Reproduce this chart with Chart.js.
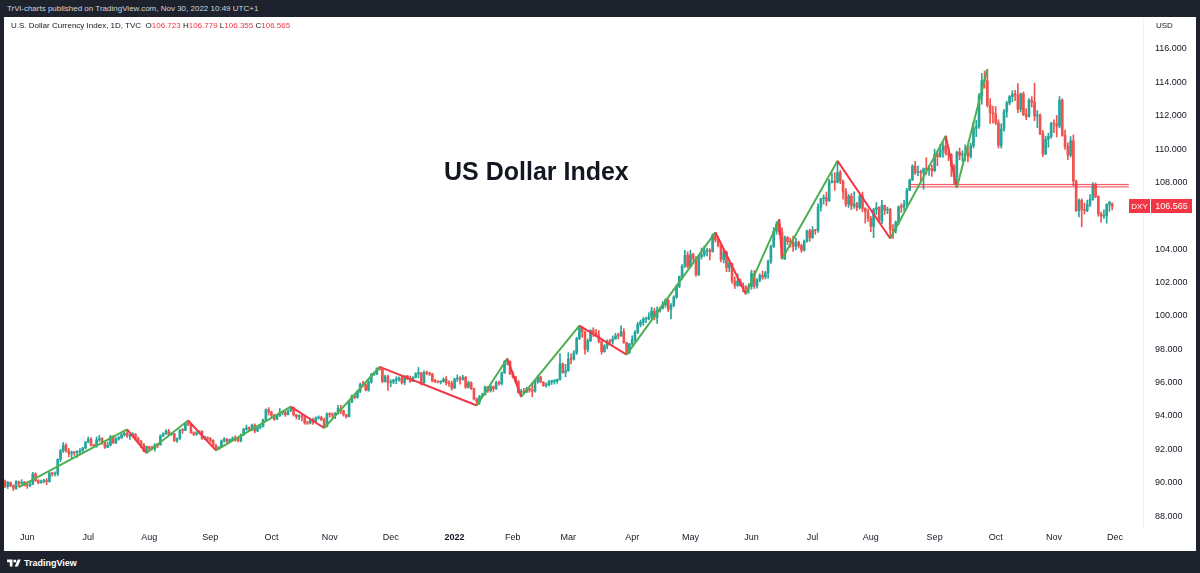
<!DOCTYPE html>
<html>
<head>
<meta charset="utf-8">
<script src="https://cdn.jsdelivr.net/npm/chart.js@4.4.1/dist/chart.umd.min.js"></script>
<style>
  html, body { margin: 0; padding: 0; }
  body {
    width: 1200px; height: 573px; position: relative; overflow: hidden;
    background: #1e222d; font-family: "Liberation Sans", Arial, sans-serif;
  }
  #top { position: absolute; left: 7px; top: 0; height: 17px; line-height: 17px; font-size: 8px; color: #d1d4dc; }
  #pane { position: absolute; left: 4px; top: 17px; width: 1192px; height: 534px; background: #fff; }
  #legend { position: absolute; left: 11px; top: 21px; line-height: 10px; font-size: 8px; color: #131722; white-space: pre; z-index: 2; }
  #legend .v { color: #f23645; }
  #usd { position: absolute; left: 1156px; top: 21px; line-height: 10px; font-size: 8px; color: #131722; z-index: 2; }
  #title { position: absolute; left: 444px; top: 159px; line-height: 25px; font-size: 25px; font-weight: bold; color: #131722; z-index: 2; }
  #foot { position: absolute; left: 7px; top: 556px; height: 14px; line-height: 14px; font-size: 9px; font-weight: bold; color: #fff; display: flex; align-items: center; gap: 3px; }
</style>
</head>
<body>
<div id="top">TrVi-charts published on TradingView.com, Nov 30, 2022 10:49 UTC+1</div>
<div id="pane"><canvas id="chart" width="1192" height="534"></canvas></div>
<div id="legend"></div>
<div id="usd">USD</div>
<div id="title">US Dollar Index</div>
<div id="foot">
  <svg width="14" height="10" viewBox="0 0 36 26"><path d="M14 22H7V11H0V4h14v18z" fill="#fff"/><circle cx="20" cy="8" r="4" fill="#fff"/><path d="M28 22h-8l7.5-18h8L28 22z" fill="#fff"/></svg>
  <span>TradingView</span>
</div>
<script>
// daily bars, 20 May 2021 .. 30 Nov 2022 (x = bar number)
const opens = [
  90.10,89.78,90.01,89.81,89.66,90.06,89.97,90.03,89.83,89.82,
  89.90,90.52,90.13,90.00,90.09,90.12,90.07,90.58,90.52,90.54,
  91.40,91.91,92.23,91.90,91.75,91.81,91.80,91.85,91.90,92.08,
  92.44,92.60,92.23,92.22,92.56,92.65,92.40,92.12,92.25,92.75,
  92.40,92.63,92.70,92.88,92.96,92.80,92.80,92.90,92.65,92.48,
  92.30,91.90,92.17,92.06,92.04,92.27,92.26,92.80,92.94,93.08,
  92.90,92.95,92.52,92.64,93.16,93.14,93.57,93.50,93.00,92.90,
  92.98,93.07,92.67,92.67,92.63,92.54,92.23,92.03,92.13,92.50,
  92.62,92.47,92.58,92.66,92.63,92.50,92.86,93.20,93.28,93.21,
  93.45,93.10,93.30,93.36,93.78,94.37,94.23,94.04,93.80,93.99,
  94.19,94.20,94.08,94.30,94.51,94.07,93.96,93.96,93.94,93.58,
  93.57,93.78,93.63,93.87,93.91,93.78,93.35,94.12,94.08,94.05,
  94.15,94.45,94.32,94.08,93.96,94.82,95.17,95.12,95.48,95.88,
  95.87,95.55,96.03,96.50,96.50,96.86,96.79,96.06,96.35,95.99,
  96.04,96.16,96.16,96.28,96.00,96.40,96.25,96.08,96.31,96.52,
  96.59,95.98,96.62,96.56,96.52,96.08,96.07,96.03,96.07,96.20,
  95.98,95.95,95.67,96.21,96.26,96.19,96.32,95.72,95.99,95.64,
  95.02,94.85,95.17,95.27,95.73,95.52,95.75,95.64,95.98,95.94,
  96.58,97.25,97.27,96.54,96.35,96.06,95.40,95.48,95.43,95.64,
  95.55,95.49,96.06,96.34,96.03,95.82,95.86,96.04,96.06,96.08,
  96.19,97.13,96.61,96.71,97.41,97.40,97.78,98.65,99.30,99.05,
  97.99,98.51,99.13,98.99,98.81,98.47,97.85,98.20,98.48,98.46,
  98.62,98.80,98.79,99.05,98.41,97.79,98.31,98.58,99.01,99.48,
  99.61,99.80,99.81,99.94,100.29,99.91,100.32,100.45,100.66,100.95,
  100.39,100.63,101.12,101.75,102.35,102.97,103.63,102.96,103.68,103.46,
  102.48,103.55,103.66,103.89,103.92,103.85,104.85,104.56,104.23,103.38,
  103.83,102.88,103.15,102.09,101.83,102.09,101.81,101.67,101.63,101.75,
  102.54,101.80,102.14,102.42,102.33,102.58,103.26,104.15,105.08,105.50,
  105.02,103.42,104.69,104.44,104.43,104.16,104.42,104.21,103.94,104.47,
  105.10,104.69,105.14,105.13,106.52,107.03,107.09,106.90,108.03,108.08,
  108.00,108.59,108.07,107.47,106.69,107.18,106.60,106.72,106.50,107.19,
  106.44,106.23,105.85,105.36,106.38,106.49,105.68,106.62,106.33,106.37,
  105.19,105.11,105.60,106.53,106.52,106.69,107.53,108.14,108.98,108.59,
  108.63,108.58,108.82,108.78,108.83,108.70,109.69,109.54,109.89,110.19,
  109.75,109.67,108.97,108.34,109.81,109.64,109.69,109.76,109.57,110.20,
  111.25,111.36,113.19,114.11,114.10,112.63,112.18,112.12,111.58,110.22,
  111.20,112.25,112.76,113.15,113.29,113.25,112.39,113.31,112.06,111.94,
  112.92,112.81,111.98,112.01,110.93,109.70,110.59,110.75,111.53,111.50,
  111.38,112.93,110.82,110.14,109.64,110.50,108.08,106.30,106.93,106.38,
  106.31,106.68,106.98,107.83,107.15,106.11,105.98,106.00,106.68,106.723
];
const highs = [
  90.15,90.08,90.05,89.88,90.13,90.10,90.18,90.08,90.03,90.06,
  90.62,90.60,90.18,90.16,90.20,90.25,90.62,90.63,90.65,91.42,
  92.00,92.41,92.35,92.05,91.90,91.88,91.92,92.04,92.12,92.45,
  92.74,92.71,92.30,92.74,92.84,92.70,92.48,92.44,92.84,92.83,
  92.70,92.78,92.94,93.05,93.19,92.90,93.00,92.95,92.73,92.54,
  92.35,92.20,92.17,92.20,92.34,92.32,92.87,92.99,93.19,93.20,
  93.00,92.95,92.69,93.17,93.24,93.61,93.73,93.55,93.05,93.06,
  93.12,93.13,92.79,92.76,92.72,92.59,92.32,92.17,92.57,92.70,
  92.65,92.62,92.75,92.81,92.70,92.92,93.26,93.45,93.35,93.52,
  93.53,93.41,93.48,93.81,94.43,94.50,94.29,94.10,94.06,94.45,
  94.29,94.28,94.36,94.56,94.53,94.10,94.07,94.11,93.96,93.69,
  93.87,93.87,93.95,94.01,93.99,93.88,94.19,94.20,94.18,94.21,
  94.63,94.64,94.35,94.10,94.88,95.26,95.27,95.53,95.97,96.07,
  95.93,96.25,96.55,96.63,96.89,96.94,96.86,96.44,96.45,96.17,
  96.20,96.35,96.34,96.40,96.41,96.43,96.39,96.36,96.60,96.91,
  96.60,96.70,96.70,96.63,96.56,96.19,96.11,96.10,96.29,96.36,
  96.12,96.08,96.27,96.46,96.36,96.44,96.37,96.09,96.05,95.67,
  95.08,95.24,95.37,95.80,95.78,95.83,95.80,96.08,96.09,96.64,
  97.33,97.44,97.30,96.67,96.38,96.12,95.60,95.65,95.73,95.66,
  95.99,96.13,96.43,96.38,96.06,95.99,96.13,96.15,96.19,96.22,
  97.74,97.18,97.10,97.80,97.72,97.92,98.72,99.42,99.35,99.09,
  98.62,99.17,99.29,99.20,99.12,98.52,98.28,98.56,98.60,98.80,
  98.96,98.96,99.41,99.23,98.42,98.36,98.81,99.12,99.62,99.75,
  99.91,99.93,100.19,100.52,100.46,100.54,100.52,100.86,101.03,101.02,
  100.73,101.21,101.86,102.39,103.07,103.93,103.84,103.94,103.76,103.56,
  103.67,104.07,104.19,104.07,104.03,104.93,105.01,104.67,104.25,103.96,
  103.89,103.29,103.16,102.34,102.52,102.21,101.98,101.82,101.93,102.74,
  102.71,102.24,102.52,102.69,102.67,103.34,104.24,105.29,105.65,105.79,
  105.28,104.79,104.75,104.66,104.79,104.67,104.48,104.30,104.55,105.15,
  105.20,105.35,105.19,106.72,107.05,107.26,107.42,108.19,108.56,108.59,
  109.29,108.72,108.16,107.64,107.28,107.33,107.43,106.80,107.23,107.42,
  106.49,106.40,105.97,106.45,106.80,106.55,106.93,106.64,106.52,106.45,
  105.48,105.69,106.60,106.72,106.93,107.65,108.21,109.06,109.27,108.98,
  108.74,108.87,109.48,109.03,109.04,109.99,109.82,110.27,110.40,110.79,
  110.07,109.72,109.07,109.88,110.06,109.90,110.26,110.15,110.35,111.62,
  111.73,113.33,114.53,114.68,114.78,113.02,112.58,112.55,111.76,111.52,
  112.38,112.87,113.21,113.50,113.52,113.92,113.36,113.42,112.43,113.03,
  113.14,113.95,112.31,112.12,111.11,110.78,110.95,111.61,111.75,112.02,
  113.15,113.02,111.14,110.38,110.75,110.85,108.14,107.02,107.01,106.76,
  106.94,107.27,107.99,107.97,107.20,106.23,106.36,106.72,106.87,106.779
];
const lows = [
  89.70,89.65,89.76,89.53,89.60,89.74,89.90,89.80,89.66,89.75,
  89.88,90.07,89.93,89.96,89.99,89.88,90.03,90.39,90.40,90.41,
  91.26,91.81,91.83,91.55,91.50,91.63,91.51,91.74,91.88,92.02,
  92.39,92.19,92.13,92.12,92.47,92.29,92.05,92.10,92.20,92.34,
  92.34,92.55,92.63,92.79,92.72,92.59,92.74,92.55,92.37,92.10,
  91.85,91.78,91.95,91.96,91.89,92.10,92.25,92.76,92.90,92.82,
  92.84,92.47,92.42,92.59,92.96,93.12,93.42,92.96,92.82,92.83,
  92.92,92.59,92.58,92.50,92.42,92.16,91.94,91.99,92.12,92.43,
  92.40,92.42,92.55,92.48,92.44,92.45,92.82,93.14,93.09,93.12,
  92.99,93.05,93.22,93.34,93.73,94.05,93.95,93.74,93.79,93.98,
  94.07,93.98,94.06,94.28,93.99,93.82,93.78,93.70,93.50,93.49,
  93.52,93.50,93.61,93.81,93.71,93.28,93.34,93.92,93.88,93.84,
  94.11,94.14,93.98,93.87,93.94,94.79,95.03,95.06,95.40,95.74,
  95.50,95.48,95.97,96.43,96.48,96.74,95.99,96.03,95.53,95.75,
  95.93,95.94,96.08,95.91,95.88,96.17,96.01,96.05,96.28,96.29,
  95.85,95.96,96.47,96.42,96.04,96.00,95.98,95.92,96.02,95.85,
  95.77,95.54,95.64,96.06,95.91,96.15,95.66,95.67,95.59,94.96,
  94.63,94.69,95.09,95.26,95.41,95.43,95.47,95.59,95.85,95.85,
  96.55,97.06,96.47,96.27,95.98,95.37,95.14,95.35,95.40,95.42,
  95.15,95.42,95.96,95.99,95.77,95.73,95.80,95.89,95.91,95.96,
  96.14,96.56,96.35,96.68,97.12,97.35,97.69,98.57,98.72,97.71,
  97.84,98.45,98.76,98.75,98.38,97.71,97.82,98.03,98.29,98.30,
  98.60,98.62,98.78,98.35,97.68,97.73,98.25,98.46,98.93,99.34,
  99.43,99.59,99.76,99.83,99.76,99.55,100.22,100.41,100.51,100.25,
  99.82,100.55,101.06,101.70,102.21,102.91,102.87,102.90,103.29,102.37,
  102.41,103.41,103.56,103.59,103.36,103.82,104.43,104.14,103.24,103.17,
  102.65,102.65,101.96,101.64,101.76,101.78,101.43,101.30,101.36,101.59,
  101.64,101.66,102.04,102.19,102.22,102.25,103.14,104.10,104.89,104.87,
  103.41,103.38,104.27,104.12,103.86,103.97,104.07,103.81,103.88,104.42,
  104.47,104.64,104.89,105.01,106.28,106.70,106.61,106.86,107.95,107.53,
  107.97,107.92,106.99,106.55,106.50,106.37,106.44,106.30,106.40,106.24,
  105.56,105.67,105.04,104.69,106.07,105.62,105.53,106.08,106.13,104.64,
  104.64,104.97,105.47,106.20,106.27,106.48,107.50,108.12,108.48,108.41,
  108.08,107.59,108.49,108.42,108.36,108.66,109.00,109.51,109.50,109.63,
  109.30,108.36,107.87,107.68,109.36,109.26,109.29,109.23,109.45,110.06,
  110.75,111.24,112.69,113.65,112.52,111.54,111.56,111.47,110.06,110.06,
  111.07,111.91,112.65,112.83,112.90,112.18,112.23,112.00,111.77,111.93,
  112.52,111.70,111.28,110.86,109.54,109.67,110.11,110.65,110.99,110.72,
  111.27,110.77,109.98,109.37,109.52,107.80,106.26,105.93,105.34,106.10,
  106.24,106.54,106.93,107.08,105.97,105.62,105.85,105.55,106.27,106.355
];
const closes = [
  89.78,90.01,89.81,89.66,90.06,89.97,90.03,89.83,89.82,89.90,
  90.52,90.13,90.00,90.09,90.12,90.07,90.58,90.52,90.54,91.40,
  91.91,92.23,91.90,91.75,91.81,91.80,91.85,91.90,92.08,92.44,
  92.60,92.23,92.22,92.56,92.65,92.40,92.12,92.25,92.75,92.40,
  92.63,92.70,92.88,92.96,92.80,92.80,92.90,92.65,92.48,92.30,
  91.90,92.17,92.06,92.04,92.27,92.26,92.80,92.94,93.08,92.90,
  92.95,92.52,92.64,93.16,93.14,93.57,93.50,93.00,92.90,92.98,
  93.07,92.67,92.67,92.63,92.54,92.23,92.03,92.13,92.50,92.62,
  92.47,92.58,92.66,92.63,92.50,92.86,93.20,93.28,93.21,93.45,
  93.10,93.30,93.36,93.78,94.37,94.23,94.04,93.80,93.99,94.19,
  94.20,94.08,94.30,94.51,94.07,93.96,93.96,93.94,93.58,93.57,
  93.78,93.63,93.87,93.91,93.78,93.35,94.12,94.08,94.05,94.15,
  94.45,94.32,94.08,93.96,94.82,95.17,95.12,95.48,95.88,95.87,
  95.55,96.03,96.50,96.50,96.86,96.79,96.06,96.35,95.99,96.04,
  96.16,96.16,96.28,96.00,96.40,96.25,96.08,96.31,96.52,96.59,
  95.98,96.62,96.56,96.52,96.08,96.07,96.03,96.07,96.20,95.98,
  95.95,95.67,96.21,96.26,96.19,96.32,95.72,95.99,95.64,95.02,
  94.85,95.17,95.27,95.73,95.52,95.75,95.64,95.98,95.94,96.58,
  97.25,97.27,96.54,96.35,96.06,95.40,95.48,95.43,95.64,95.55,
  95.49,96.06,96.34,96.03,95.82,95.86,96.04,96.06,96.08,96.19,
  97.13,96.61,96.71,97.41,97.40,97.78,98.65,99.30,99.05,97.99,
  98.51,99.13,98.99,98.81,98.47,97.85,98.20,98.48,98.46,98.62,
  98.80,98.79,99.05,98.41,97.79,98.31,98.58,99.01,99.48,99.61,
  99.80,99.81,99.94,100.29,99.91,100.32,100.45,100.66,100.95,100.39,
  100.63,101.12,101.75,102.35,102.97,103.63,102.96,103.68,103.46,102.48,
  103.55,103.66,103.89,103.92,103.85,104.85,104.56,104.23,103.38,103.83,
  102.88,103.15,102.09,101.83,102.09,101.81,101.67,101.63,101.75,102.54,
  101.80,102.14,102.42,102.33,102.58,103.26,104.15,105.08,105.50,105.02,
  103.42,104.69,104.44,104.43,104.16,104.42,104.21,103.94,104.47,105.10,
  104.69,105.14,105.13,106.52,107.03,107.09,106.90,108.03,108.08,108.00,
  108.59,108.07,107.47,106.69,107.18,106.60,106.72,106.50,107.19,106.44,
  106.23,105.85,105.36,106.38,106.49,105.68,106.62,106.33,106.37,105.19,
  105.11,105.60,106.53,106.52,106.69,107.53,108.14,108.98,108.59,108.63,
  108.58,108.82,108.78,108.83,108.70,109.69,109.54,109.89,110.19,109.75,
  109.67,108.97,108.34,109.81,109.64,109.69,109.76,109.57,110.20,111.25,
  111.36,113.19,114.11,114.10,112.63,112.18,112.12,111.58,110.22,111.20,
  112.25,112.76,113.15,113.29,113.25,112.39,113.31,112.06,111.94,112.92,
  112.81,111.98,112.01,110.93,109.70,110.59,110.75,111.53,111.50,111.38,
  112.93,110.82,110.14,109.64,110.50,108.08,106.30,106.93,106.38,106.31,
  106.68,106.98,107.83,107.15,106.11,105.98,106.00,106.68,106.81,106.565
];

// time axis: bar number of the first bar of each month
const monthIdx = [8, 30, 52, 74, 96, 117, 139, 162, 183, 203, 226, 247, 269, 291, 312, 335, 357, 378, 400];
const monthLabels = ['Jun', 'Jul', 'Aug', 'Sep', 'Oct', 'Nov', 'Dec', '2022', 'Feb', 'Mar', 'Apr', 'May', 'Jun', 'Jul', 'Aug', 'Sep', 'Oct', 'Nov', 'Dec'];
const priceTicks = [88, 90, 92, 94, 96, 98, 100, 102, 104, 108, 110, 112, 114, 116];

// zigzag swing points (bar number, price)
const zigIdx = [5, 44, 51, 66, 76, 103, 115, 135, 170, 181, 186, 207, 224, 256, 267, 279, 280, 300, 319, 339, 343, 354];
const zigPrice = [89.74, 93.19, 91.78, 93.73, 91.94, 94.56, 93.28, 96.94, 94.63, 97.44, 95.14, 99.42, 97.68, 105.01, 101.30, 105.79, 103.41, 109.29, 104.64, 110.79, 107.68, 114.78];

// horizontal zone
const zoneIdx = [326, 405];
const zoneHigh = 107.88;
const zoneLow = 107.73;

const UP = '#26a69a';
const DOWN = '#ef5350';
const LINE_UP = '#4caf50';
const LINE_DOWN = '#f23645';
const FONT = '"Liberation Sans", Arial, sans-serif';

const last = closes.length - 1;
const fmt = v => v.toFixed(3);
document.getElementById('legend').innerHTML =
  'U.S. Dollar Currency Index, 1D, TVC  ' +
  'O<span class="v">' + fmt(opens[last]) + '</span> ' +
  'H<span class="v">' + fmt(highs[last]) + '</span> ' +
  'L<span class="v">' + fmt(lows[last]) + '</span> ' +
  'C<span class="v">' + fmt(closes[last]) + '</span>';

const candleColor = ctx => closes[ctx.dataIndex] >= opens[ctx.dataIndex] ? UP : DOWN;

const wicks = closes.map((c, i) => ({ x: i, y: [lows[i], highs[i]] }));
const bodies = closes.map((c, i) => ({ x: i, y: [opens[i], c] }));
const zigzag = zigIdx.map((x, i) => ({ x: x, y: zigPrice[i] }));

// last price badge on the price scale
const lastPriceBadge = {
  id: 'lastPriceBadge',
  afterDraw(chart) {
    const { ctx, chartArea, scales } = chart;
    const py = Math.round(scales.y.getPixelForValue(closes[last]));
    const x0 = chartArea.right - 14;
    ctx.save();
    ctx.fillStyle = LINE_DOWN;
    ctx.fillRect(x0, py - 7, 21, 14);
    ctx.fillRect(x0 + 22, py - 7, 41, 14);
    ctx.fillStyle = '#fff';
    ctx.textBaseline = 'middle';
    ctx.textAlign = 'center';
    ctx.font = '8px ' + FONT;
    ctx.fillText('DXY', x0 + 10.5, py + 0.5);
    ctx.font = '9px ' + FONT;
    ctx.fillText(fmt(closes[last]), x0 + 42.5, py + 0.5);
    ctx.restore();
  }
};

new Chart(document.getElementById('chart'), {
  type: 'bar',
  data: {
    datasets: [
      {
        type: 'line',
        data: zigzag,
        borderWidth: 2,
        pointRadius: 0,
        tension: 0,
        segment: { borderColor: c => c.p1.parsed.y >= c.p0.parsed.y ? LINE_UP : LINE_DOWN },
        order: 0
      },
      {
        type: 'line',
        data: zoneIdx.map(x => ({ x: x, y: zoneHigh })),
        borderColor: 'rgba(242,54,69,0.85)',
        borderWidth: 1,
        pointRadius: 0,
        order: 1
      },
      {
        type: 'line',
        data: zoneIdx.map(x => ({ x: x, y: zoneLow })),
        borderColor: 'rgba(242,54,69,0.85)',
        borderWidth: 1,
        pointRadius: 0,
        fill: '-1',
        backgroundColor: 'rgba(242,54,69,0.12)',
        order: 1
      },
      {
        data: bodies,
        backgroundColor: candleColor,
        barThickness: 2,
        minBarLength: 1,
        grouped: false,
        order: 2
      },
      {
        data: wicks,
        backgroundColor: candleColor,
        barThickness: 1,
        grouped: false,
        order: 3
      }
    ]
  },
  options: {
    responsive: false,
    animation: false,
    events: [],
    layout: { padding: 0 },
    plugins: { legend: { display: false }, tooltip: { enabled: false } },
    scales: {
      x: {
        type: 'linear',
        min: -0.36,
        max: 410.09,
        offset: false,
        grid: { display: false, drawTicks: false },
        border: { display: false },
        afterBuildTicks: s => { s.ticks = monthIdx.map(v => ({ value: v })); },
        afterFit: s => { s.height = 23; s.paddingLeft = 0; s.paddingRight = 0; },
        ticks: {
          autoSkip: false,
          maxRotation: 0,
          padding: 4,
          color: '#131722',
          font: c => ({ size: 9, family: FONT, weight: monthLabels[c.index] === '2022' ? 'bold' : 'normal' }),
          callback: (v, i) => monthLabels[i]
        }
      },
      y: {
        position: 'right',
        min: 87.283,
        max: 117.918,
        grid: { display: false, drawTicks: false },
        border: { display: true, color: '#f0f3fa' },
        afterBuildTicks: s => { s.ticks = priceTicks.map(v => ({ value: v })); },
        afterFit: s => { s.width = 53; s.paddingTop = 0; s.paddingBottom = 0; },
        ticks: {
          padding: 12,
          color: '#131722',
          font: { size: 9, family: FONT },
          callback: v => fmt(v)
        }
      }
    }
  },
  plugins: [lastPriceBadge]
});
</script>
</body>
</html>
